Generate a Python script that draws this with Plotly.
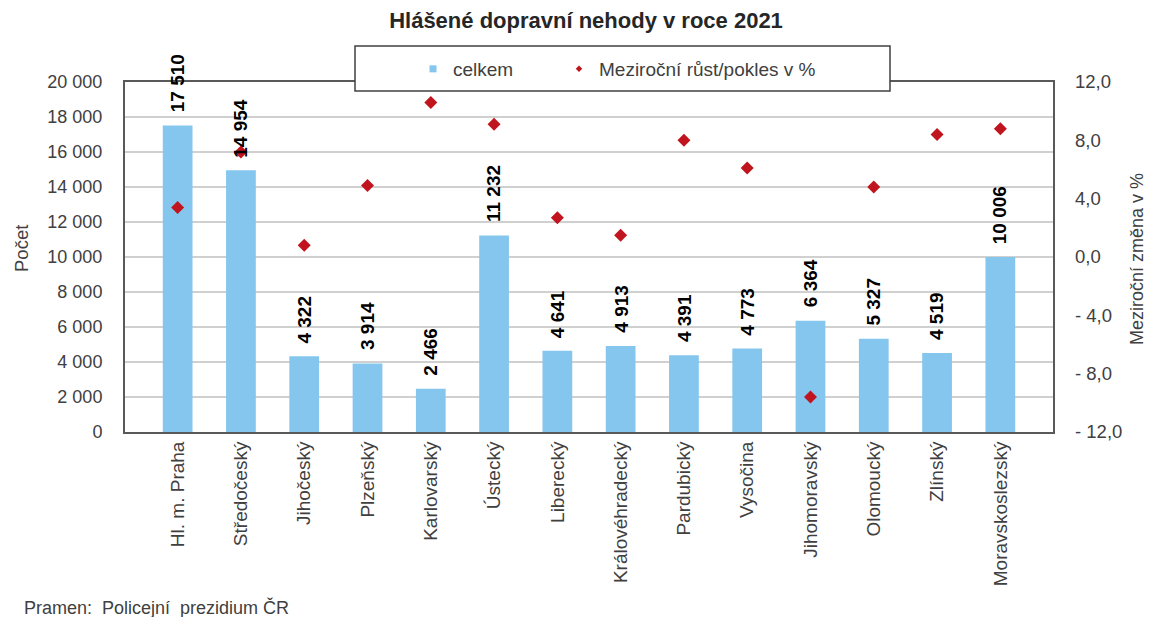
import plotly.graph_objects as go

# Regions of the Czech Republic
regions = ["Hl. m. Praha", "Středočeský", "Jihočeský", "Plzeňský", "Karlovarský",
           "Ústecký", "Liberecký", "Královéhradecký", "Pardubický", "Vysočina",
           "Jihomoravský", "Olomoucký", "Zlínský", "Moravskoslezský"]

# Reported road accidents in 2021 (count)
accidents = [17510, 14954, 4322, 3914, 2466, 11232, 4641, 4913, 4391, 4773,
             6364, 5327, 4519, 10006]

# Year-on-year change in %
yoy_change = [3.4, 7.2, 0.8, 4.9, 10.6, 9.1, 2.7, 1.5, 8.0, 6.1,
              -9.6, 4.8, 8.4, 8.8]

left_ticks = [0, 2000, 4000, 6000, 8000, 10000, 12000, 14000, 16000, 18000, 20000]
left_tick_text = ["0", "2 000", "4 000", "6 000", "8 000", "10 000", "12 000",
                  "14 000", "16 000", "18 000", "20 000"]
right_ticks = [-12, -8, -4, 0, 4, 8, 12]
right_tick_text = ["- 12,0", "- 8,0", "- 4,0", "0,0", "4,0", "8,0", "12,0"]

BAR_COLOR = "#85C6EE"
DOT_COLOR = "#C0151E"
FONT = "Arial, Liberation Sans, sans-serif"
TXT = "#404040"


def fmt(v):
    return f"{v:,}".replace(",", " ")


fig = go.Figure()

fig.add_trace(go.Bar(
    x=regions, y=accidents, width=0.47,
    marker=dict(color=BAR_COLOR, line=dict(width=0)),
    showlegend=False, yaxis="y",
))

fig.add_trace(go.Scatter(
    x=regions, y=yoy_change, mode="markers",
    marker=dict(symbol="diamond", size=10, color=DOT_COLOR),
    showlegend=False, yaxis="y2", cliponaxis=False,
))

# legend entries with small symbols
fig.add_trace(go.Scatter(
    x=[None], y=[None], mode="markers", name="celkem", legendwidth=101,
    marker=dict(symbol="square", size=7, color=BAR_COLOR),
))
fig.add_trace(go.Scatter(
    x=[None], y=[None], mode="markers", name="Meziroční růst/pokles v %",
    legendwidth=240,
    marker=dict(symbol="diamond", size=5, color=DOT_COLOR), yaxis="y2",
))

# value labels above the bars
for r, v in zip(regions, accidents):
    fig.add_annotation(
        x=r, y=v, xref="x", yref="y", text=fmt(v), textangle=-90,
        showarrow=False, yanchor="bottom", yshift=11,
        font=dict(family=FONT, size=19, color="#000000", weight="bold"),
    )

# legend frame
fig.add_shape(type="rect", xref="paper", yref="paper",
              x0=(355 - 125) / 928, x1=(890 - 125) / 928,
              y0=(432 - 91) / 350, y1=(432 - 46) / 350,
              line=dict(color="#404040", width=1.5), fillcolor="white",
              layer="above")

fig.add_annotation(
    xref="paper", yref="paper", x=(22 - 125) / 928, y=(432 - 249) / 350,
    xanchor="center", yanchor="middle",
    text="Počet", textangle=-90, showarrow=False,
    font=dict(family=FONT, size=18.5, color=TXT),
)
fig.add_annotation(
    xref="paper", yref="paper", x=(1137 - 125) / 928, y=(432 - 259) / 350,
    xanchor="center", yanchor="middle",
    text="Meziroční změna v %", textangle=-90, showarrow=False,
    font=dict(family=FONT, size=18, color=TXT),
)
fig.add_annotation(
    xref="paper", yref="paper", x=(22 - 125) / 928, y=(432 - 607) / 350,
    xanchor="left", yanchor="middle",
    text="Pramen:\u00a0 Policejní\u00a0 prezidium ČR", showarrow=False,
    font=dict(family=FONT, size=18, color=TXT),
)

fig.update_layout(
    width=1149, height=617,
    margin=dict(l=125, r=96, t=82, b=185),
    paper_bgcolor="white", plot_bgcolor="white",
    font=dict(family=FONT, color=TXT),
    title=dict(text="Hlášené dopravní nehody v roce 2021", x=586 / 1149, xanchor="center",
               xref="container", y=1 - 20 / 617, yanchor="middle",
               font=dict(family=FONT, size=22, color="#262626", weight="bold")),
    legend=dict(orientation="h", x=(413 - 125) / 928, xanchor="left",
                y=(432 - 69) / 350, yanchor="middle",
                bgcolor="rgba(0,0,0,0)", borderwidth=0,
                font=dict(family=FONT, size=19, color=TXT)),
    xaxis=dict(
        type="category", tickangle=-90, showgrid=False,
        showline=True, linecolor="#595959", linewidth=2, mirror=True,
        ticks="", tickfont=dict(family=FONT, size=19, color=TXT),
    ),
    yaxis=dict(
        range=[0, 20000], tickvals=left_ticks, ticktext=left_tick_text,
        showgrid=True, gridcolor="#D0D0D0", gridwidth=1.5,
        showline=True, linecolor="#595959", linewidth=2, mirror=True,
        ticks="", ticklabelstandoff=17, zeroline=False,
        tickfont=dict(family=FONT, size=18, color=TXT),
    ),
    yaxis2=dict(
        range=[-12, 12], tickvals=right_ticks, ticktext=right_tick_text,
        overlaying="y", side="right", showgrid=False, zeroline=False,
        showline=False, ticks="", ticklabelstandoff=21,
        tickfont=dict(family=FONT, size=18.5, color=TXT),
    ),
    bargap=0.53,
)

fig.write_html("out.html")
